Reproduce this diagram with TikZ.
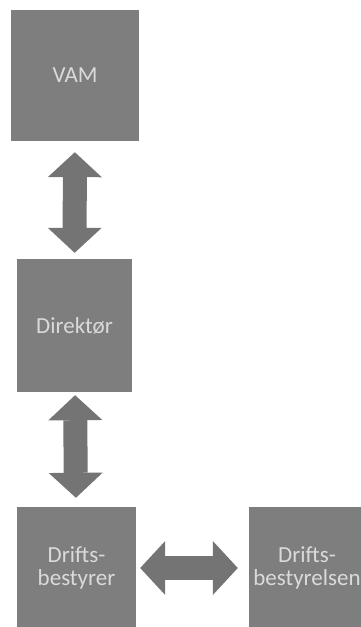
\documentclass[tikz,border=0pt]{standalone}
\usepackage{fontspec}
\setmainfont{Carlito}
\usetikzlibrary{arrows.meta}

\definecolor{boxgray}{RGB}{126,126,126}
\definecolor{arrowgray}{RGB}{116,116,116}
\definecolor{textgray}{RGB}{218,218,218}

\begin{document}
\begin{tikzpicture}[x=1pt,y=-1pt,
    orgbox/.style={fill=boxgray,text=textgray,align=center,inner sep=0pt,
      font=\fontsize{23}{23}\selectfont},
    blockarrow/.style={color=arrowgray,line width=24pt,
      {Triangle[length=25pt,width=54pt,line width=0pt]}-{Triangle[length=25pt,width=54pt,line width=0pt]}}]
  \useasboundingbox (0,0) rectangle (361,627);
  \node[orgbox,minimum width=128pt,minimum height=131pt] (vam) at (75,75.5) {VAM};
  \node[orgbox,minimum width=115pt,minimum height=133pt] (dir) at (74.5,325.5) {Direktør};
  \node[orgbox,minimum width=119pt,minimum height=122pt] (drb) at (76.5,568) {Drifts-\\bestyrer};
  \node[orgbox,minimum width=116pt,minimum height=122pt] (drl) at (307,568) {Drifts-\\bestyrelsen};
  \path[blockarrow]
    (vam) edge[shorten <=11pt,shorten >=6pt] (dir)
    (dir) edge[shorten <=3pt,shorten >=9pt] (drb)
    (drb) edge[shorten <=4pt,shorten >=11pt] (drl);
    %(drl) edge (dir)
\end{tikzpicture}
\end{document}
